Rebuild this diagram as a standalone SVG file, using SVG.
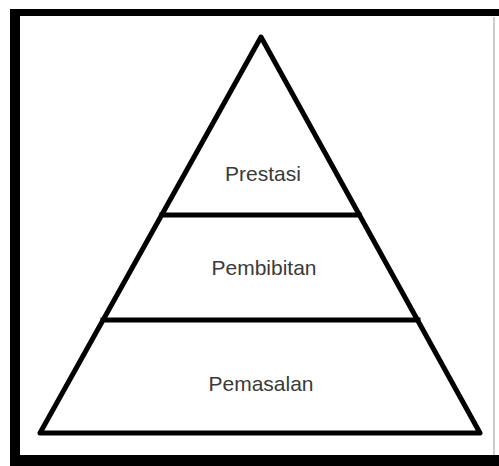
<svg xmlns="http://www.w3.org/2000/svg" width="499" height="466" viewBox="0 0 499 466">
  <style>
    .edge { fill: none; stroke: #000; stroke-width: 5; stroke-linejoin: round; stroke-linecap: square; }
    .lbl { font-family: "Liberation Sans", Arial, sans-serif; font-size: 21px; text-anchor: middle; fill: #3a3a3a; }
  </style>
  <rect x="0" y="0" width="499" height="466" fill="#fff"/>
  <g id="frame">
    <rect x="10" y="9" width="489" height="457" fill="#000"/>
    <rect x="20" y="16" width="479" height="439" fill="#fff"/>
    <line x1="494" y1="17" x2="494" y2="455" stroke="#bbb" stroke-width="1.5"/>
  </g>
  <g id="connectors">
    <polygon class="edge" points="261,37 480,433 40,433"/>
    <line class="edge" x1="162" y1="215" x2="359" y2="215"/>
    <line class="edge" x1="103" y1="320" x2="418" y2="320"/>
  </g>
  <g id="prestasi">
    <text class="lbl" x="263" y="181">Prestasi</text>
  </g>
  <g id="pembibitan">
    <text class="lbl" x="264" y="275" fill="#4a4a4a">Pembibitan</text>
  </g>
  <g id="pemasalan">
    <text class="lbl" x="261" y="391">Pemasalan</text>
  </g>
</svg>
